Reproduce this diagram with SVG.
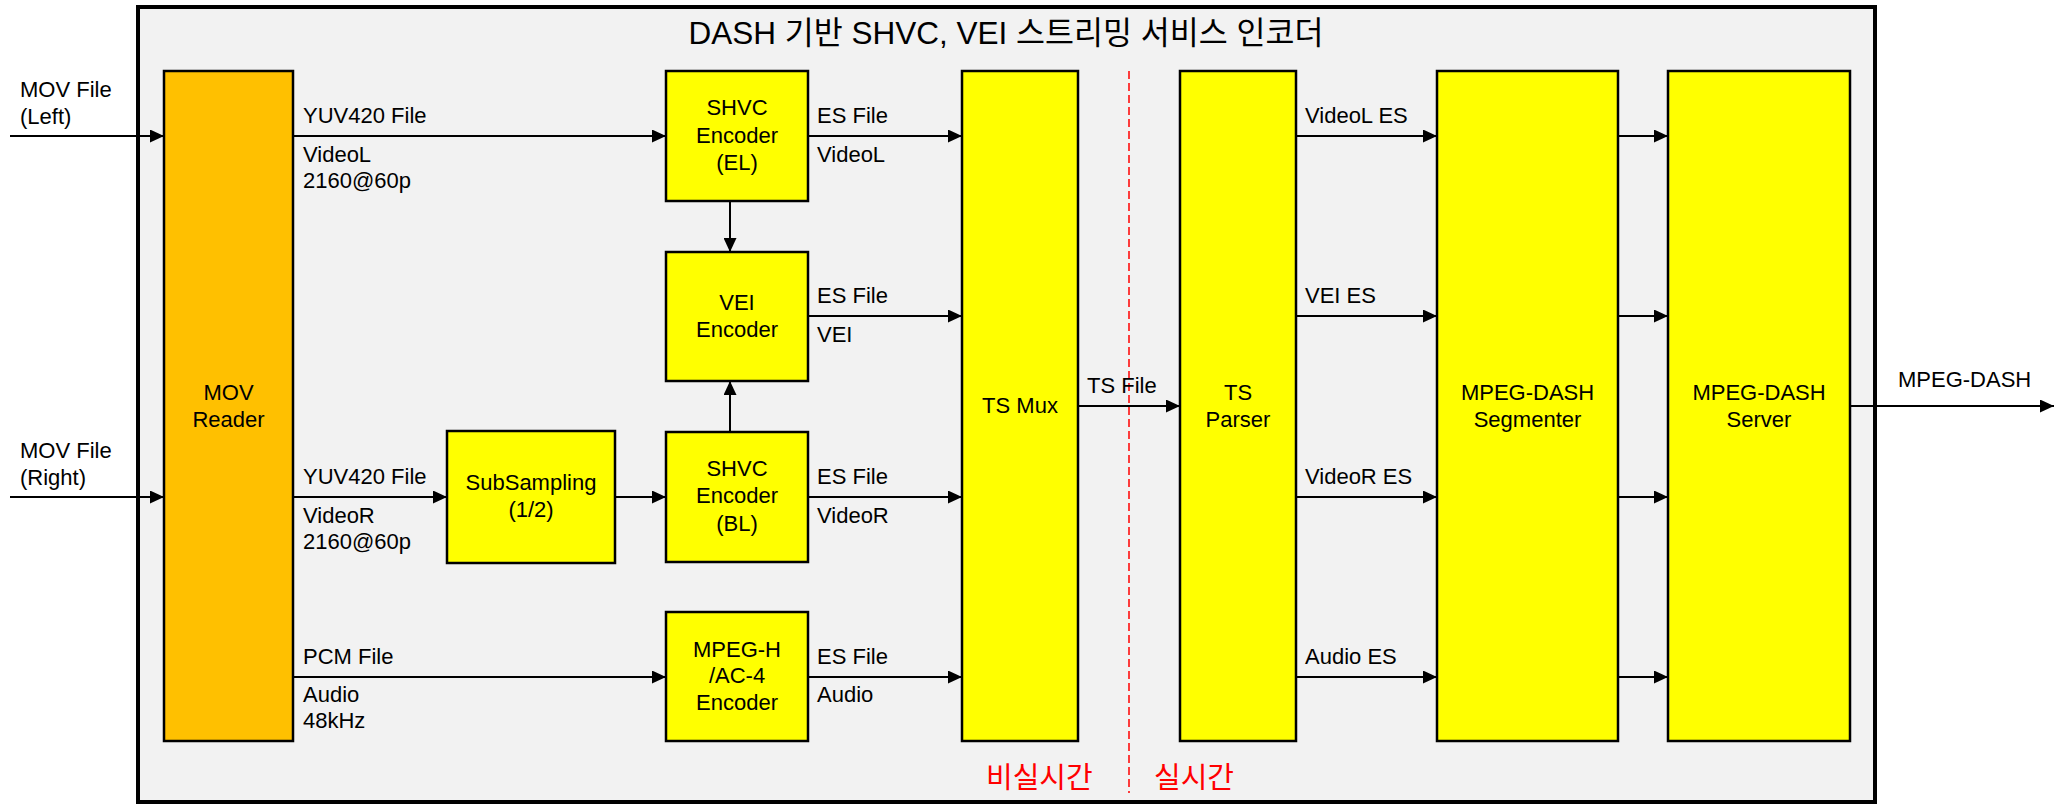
<svg xmlns="http://www.w3.org/2000/svg" width="2056" height="804" viewBox="0 0 2056 804">
<style>
text{font-family:"Liberation Sans","Noto Sans CJK KR",sans-serif;font-size:22px;fill:#000}
.c{text-anchor:middle}
.box{fill:#FFFF00;stroke:#000;stroke-width:2.5}
.org{fill:#FFC000;stroke:#000;stroke-width:2.5}
.ln{stroke:#000;stroke-width:2;fill:none;marker-end:url(#arr)}
.red{fill:#FF0000;font-size:29px}
</style>
<defs>
<marker id="arr" viewBox="0 0 14 13" refX="14" refY="6.5" markerWidth="14" markerHeight="13" markerUnits="userSpaceOnUse" orient="auto"><path d="M0,0 L14,6.5 L0,13 z" fill="#000"/></marker>
</defs>
<rect width="2056" height="804" fill="#fff"/>
<g id="container">
<rect x="138" y="7" width="1737" height="795" fill="#F2F2F2" stroke="#000" stroke-width="4"/>
<text class="c" x="1006" y="44" style="font-size:31.5px">DASH 기반 SHVC, VEI 스트리밍 서비스 인코더</text>
</g>
<g id="divider">
<line x1="1129" y1="71" x2="1129" y2="793" stroke="#FF0000" stroke-width="1.5" stroke-dasharray="8 4"/>
<text class="red" x="986" y="788">비실시간</text>
<text class="red" x="1154" y="788">실시간</text>
</g>
<g id="mov-reader">
<rect class="org" x="164" y="71" width="129" height="670"/>
<text class="c" x="228.5" y="400">MOV</text>
<text class="c" x="228.5" y="427">Reader</text>
</g>
<g id="subsampling">
<rect class="box" x="447" y="431" width="168" height="132"/>
<text class="c" x="531" y="490">SubSampling</text>
<text class="c" x="531" y="517">(1/2)</text>
</g>
<g id="shvc-el">
<rect class="box" x="666" y="71" width="142" height="130"/>
<text class="c" x="737" y="115">SHVC</text>
<text class="c" x="737" y="143">Encoder</text>
<text class="c" x="737" y="170">(EL)</text>
</g>
<g id="vei-enc">
<rect class="box" x="666" y="252" width="142" height="129"/>
<text class="c" x="737" y="310">VEI</text>
<text class="c" x="737" y="337">Encoder</text>
</g>
<g id="shvc-bl">
<rect class="box" x="666" y="432" width="142" height="130"/>
<text class="c" x="737" y="476">SHVC</text>
<text class="c" x="737" y="503">Encoder</text>
<text class="c" x="737" y="531">(BL)</text>
</g>
<g id="mpegh-enc">
<rect class="box" x="666" y="612" width="142" height="129"/>
<text class="c" x="737" y="657">MPEG-H</text>
<text class="c" x="737" y="683">/AC-4</text>
<text class="c" x="737" y="710">Encoder</text>
</g>
<g id="ts-mux">
<rect class="box" x="962" y="71" width="116" height="670"/>
<text class="c" x="1020" y="413">TS Mux</text>
</g>
<g id="ts-parser">
<rect class="box" x="1180" y="71" width="116" height="670"/>
<text class="c" x="1238" y="400">TS</text>
<text class="c" x="1238" y="427">Parser</text>
</g>
<g id="segmenter">
<rect class="box" x="1437" y="71" width="181" height="670"/>
<text class="c" x="1527.5" y="400">MPEG-DASH</text>
<text class="c" x="1527.5" y="427">Segmenter</text>
</g>
<g id="server">
<rect class="box" x="1668" y="71" width="182" height="670"/>
<text class="c" x="1759" y="400">MPEG-DASH</text>
<text class="c" x="1759" y="427">Server</text>
</g>
<g id="connectors">
<line class="ln" x1="10" y1="136" x2="164" y2="136"/>
<line class="ln" x1="10" y1="497" x2="164" y2="497"/>
<line class="ln" x1="293" y1="136" x2="666" y2="136"/>
<line class="ln" x1="293" y1="497" x2="447" y2="497"/>
<line class="ln" x1="615" y1="497" x2="666" y2="497"/>
<line class="ln" x1="293" y1="677" x2="666" y2="677"/>
<line class="ln" x1="730" y1="201" x2="730" y2="252"/>
<line class="ln" x1="730" y1="432" x2="730" y2="381"/>
<line class="ln" x1="808" y1="136" x2="962" y2="136"/>
<line class="ln" x1="808" y1="316" x2="962" y2="316"/>
<line class="ln" x1="808" y1="497" x2="962" y2="497"/>
<line class="ln" x1="808" y1="677" x2="962" y2="677"/>
<line class="ln" x1="1078" y1="406" x2="1180" y2="406"/>
<line class="ln" x1="1296" y1="136" x2="1437" y2="136"/>
<line class="ln" x1="1296" y1="316" x2="1437" y2="316"/>
<line class="ln" x1="1296" y1="497" x2="1437" y2="497"/>
<line class="ln" x1="1296" y1="677" x2="1437" y2="677"/>
<line class="ln" x1="1618" y1="136" x2="1668" y2="136"/>
<line class="ln" x1="1618" y1="316" x2="1668" y2="316"/>
<line class="ln" x1="1618" y1="497" x2="1668" y2="497"/>
<line class="ln" x1="1618" y1="677" x2="1668" y2="677"/>
<line class="ln" x1="1850" y1="406" x2="2054" y2="406"/>
</g>
<g id="labels">
<text x="20" y="97">MOV File</text>
<text x="20" y="124">(Left)</text>
<text x="20" y="458">MOV File</text>
<text x="20" y="485">(Right)</text>
<text x="303" y="123">YUV420 File</text>
<text x="303" y="162">VideoL</text>
<text x="303" y="188">2160@60p</text>
<text x="303" y="484">YUV420 File</text>
<text x="303" y="523">VideoR</text>
<text x="303" y="549">2160@60p</text>
<text x="303" y="664">PCM File</text>
<text x="303" y="702">Audio</text>
<text x="303" y="728">48kHz</text>
<text x="817" y="123">ES File</text>
<text x="817" y="162">VideoL</text>
<text x="817" y="303">ES File</text>
<text x="817" y="342">VEI</text>
<text x="817" y="484">ES File</text>
<text x="817" y="523">VideoR</text>
<text x="817" y="664">ES File</text>
<text x="817" y="702">Audio</text>
<text x="1087" y="393">TS File</text>
<text x="1305" y="123">VideoL ES</text>
<text x="1305" y="303">VEI ES</text>
<text x="1305" y="484">VideoR ES</text>
<text x="1305" y="664">Audio ES</text>
<text x="1898" y="387">MPEG-DASH</text>
</g>
</svg>
